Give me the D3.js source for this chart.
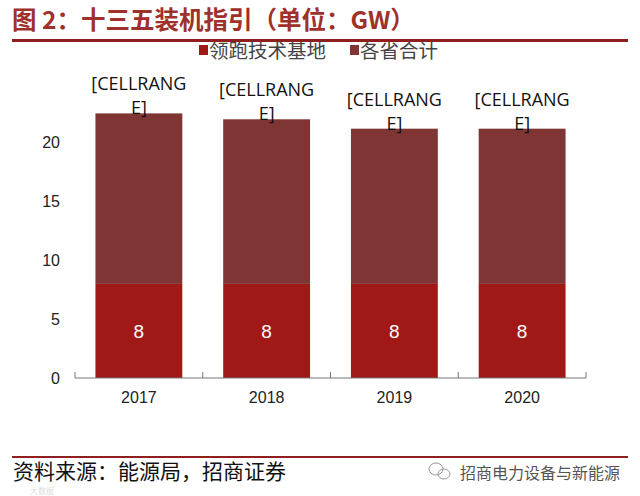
<!DOCTYPE html>
<html><head><meta charset="utf-8">
<script src="https://cdn.jsdelivr.net/npm/d3@7"></script>
<style>
html,body{margin:0;padding:0;background:#fff;}
svg{display:block;}
</style></head>
<body>
<svg id="chart" width="640" height="496"></svg>
<script>
const categories = ["2017", "2018", "2019", "2020"];
const seriesNames = ["领跑技术基地", "各省合计"];
const leaderBase = [8, 8, 8, 8];
const provinceTotal = [14.5, 14, 13.2, 13.2];
const yTicks = [0, 5, 10, 15, 20];
const topLabelLines = ["[CELLRANG", "E]"];
const titleText = "图 2：十三五装机指引（单位：GW）";
const sourceText = "资料来源：能源局，招商证券";
const brandText = "招商电力设备与新能源";
const watermarkText = "大数据";

const colors = ["#A01916", "#7E3533"];
const svg = d3.select("#chart");
const cjk = "'Noto Sans CJK SC', 'Noto Sans', sans-serif";
const lat = "'Liberation Sans', Arial, sans-serif";

// title
svg.append("text").attr("x", 12).attr("y", 29)
  .attr("font-family", cjk).attr("font-weight", "bold").attr("font-size", 24.5)
  .attr("fill", "#A0302A").text(titleText);
svg.append("rect").attr("x", 12).attr("y", 39).attr("width", 616).attr("height", 3).attr("fill", "#8E1F1C");

// scales
const x = d3.scaleBand().domain(categories).range([75, 586]).paddingInner(0.32).paddingOuter(0.16);
const y = d3.scaleLinear().domain([0, 25]).range([378, 84]);

const data = categories.map((c, i) => ({cat: c, a: leaderBase[i], b: provinceTotal[i]}));
const stack = d3.stack().keys(["a", "b"])(data);

const g = svg.append("g");
g.selectAll("g.series").data(stack).join("g").attr("fill", (d, i) => colors[i])
  .selectAll("rect").data(d => d).join("rect")
  .attr("x", d => x(d.data.cat)).attr("width", x.bandwidth())
  .attr("y", d => y(d[1])).attr("height", d => y(d[0]) - y(d[1]));

// inner labels
g.selectAll("text.inner").data(data).join("text")
  .attr("x", d => x(d.cat) + x.bandwidth() / 2)
  .attr("y", d => y(d.a / 2) + 7)
  .attr("text-anchor", "middle").attr("font-family", lat).attr("font-size", 19)
  .attr("fill", "#fff").text(d => d.a);

// top labels
const tl = g.selectAll("text.top").data(data).join("text")
  .attr("text-anchor", "middle").attr("font-family", "'Open Sans', sans-serif").attr("font-size", 18)
  .attr("fill", "#111");
tl.each(function(d) {
  const cx = x(d.cat) + x.bandwidth() / 2;
  const base = y(d.a + d.b) + 1;
  d3.select(this).selectAll("tspan").data(topLabelLines).join("tspan")
    .attr("x", cx).attr("y", (t, j) => base - (topLabelLines.length - 1 - j) * 24)
    .text(t => t);
});

// x axis
const xAxis = d3.axisBottom(x).tickSize(0).tickPadding(14);
const xg = svg.append("g").attr("transform", `translate(0,${y(0)})`).call(xAxis);
xg.select(".domain").attr("stroke", "#777");
xg.selectAll("text").attr("font-family", lat).attr("font-size", 16).attr("fill", "#222");
const bounds = [75].concat(categories.map(c => x(c) + x.bandwidth() + x.step() * x.paddingInner() / 2));
bounds[bounds.length - 1] = 586;
xg.selectAll("line.sep").data(bounds).join("line")
  .attr("x1", d => d).attr("x2", d => d).attr("y1", 0).attr("y2", -6)
  .attr("stroke", "#777");
xg.select(".domain").attr("d", "M75,0H586");

// y axis
const yAxis = d3.axisLeft(y).tickValues(yTicks).tickSize(0).tickPadding(0);
const yg = svg.append("g").attr("transform", "translate(60,0)").call(yAxis);
yg.select(".domain").remove();
yg.selectAll("text").attr("font-family", lat).attr("font-size", 16).attr("fill", "#222");

// legend
const leg = svg.append("g");
const legX = [199, 350];
seriesNames.forEach((n, i) => {
  leg.append("rect").attr("x", legX[i]).attr("y", 45).attr("width", 9).attr("height", 10).attr("fill", colors[i]);
  leg.append("text").attr("x", legX[i] + 10).attr("y", 58).attr("font-family", cjk)
    .attr("font-size", 19.5).attr("fill", "#444").text(n);
});

// footer
svg.append("rect").attr("x", 12).attr("y", 456).attr("width", 616).attr("height", 2).attr("fill", "#8E1F1C");
svg.append("text").attr("x", 13).attr("y", 479).attr("font-family", cjk)
  .attr("font-size", 21).attr("fill", "#111").text(sourceText);
svg.append("text").attr("x", 620).attr("y", 479).attr("text-anchor", "end").attr("font-family", cjk)
  .attr("font-size", 16).attr("fill", "#555").text(brandText);
const ic = svg.append("g").attr("fill", "none").attr("stroke", "#999").attr("stroke-width", 1);
ic.append("ellipse").attr("cx", 436).attr("cy", 469).attr("rx", 7).attr("ry", 6);
ic.append("ellipse").attr("cx", 444).attr("cy", 474).attr("rx", 6).attr("ry", 5);
svg.append("text").attr("x", 30).attr("y", 494).attr("font-family", cjk)
  .attr("font-size", 8).attr("fill", "#ddd").text(watermarkText);
</script>
</body></html>
